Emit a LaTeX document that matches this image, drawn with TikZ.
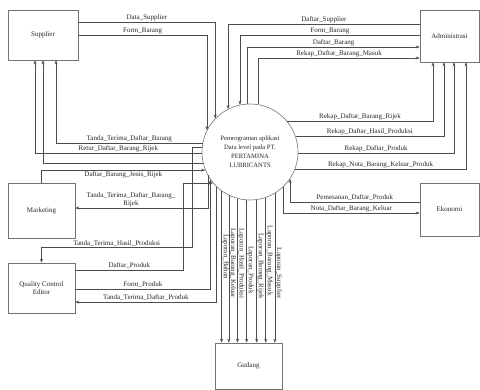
\documentclass[tikz,border=0pt]{standalone}
\usepackage{fontspec}
\setmainfont{Liberation Serif}
\usetikzlibrary{arrows.meta}

\begin{document}
\begin{tikzpicture}[x=1pt, y=-1pt, >={Stealth[length=4pt,width=3pt]}, line width=0.5pt, font=\fontsize{7}{8}\selectfont,
  entity/.style={rectangle, draw=black!55, line width=0.6pt, align=center, inner sep=1pt, text=black!85},
  flow/.style={->, draw=black!70},
  lbl/.style={inner sep=1pt, text=black!85},
  vlbl/.style={lbl, inner sep=0.5pt, font=\fontsize{7}{8}\selectfont, rotate=-90, anchor=south west}]

\useasboundingbox (0,0) rectangle (480,390);

% Nodes
\node[entity, minimum width=70pt, minimum height=50pt] (sup) at (43,35) {Supplier};
\node[entity, minimum width=59pt, minimum height=52pt] (adm) at (449.5,36) {Administrasi};
\node[entity, minimum width=67pt, minimum height=55pt] (mkt) at (41.5,210.5) {Marketing};
\node[entity, minimum width=59pt, minimum height=53pt] (eko) at (449.5,209.5) {Ekonomi};
\node[entity, minimum width=67pt, minimum height=50pt] (qc) at (41.5,288) {Quality Control\\Editor};
\node[entity, minimum width=67pt, minimum height=46pt] (gud) at (248.5,366) {Gudang};
\node[circle, draw=black!55, line width=0.6pt, minimum size=96pt, inner sep=0pt, align=center, text=black!85, font=\fontsize{6.6}{9}\selectfont] (proc) at (250,152) {Pemrograman aplikasi\\Data level pada PT.\\PERTAMINA\\LUBRICANTS};

% Edges: Supplier
\draw[flow] ([yshift=13pt]sup.east) -| (proc.136.8) node[lbl, above, pos=0.25] {Data\_Supplier};
\draw[flow] (sup.east) -| (proc.153.6) node[lbl, above, pos=0.25] {Form\_Barang};
\draw[flow] (proc.169.2) -| ([xshift=13pt]sup.south) node[lbl, above, pos=0.25] {Tanda\_Terima\_Daftar\_Barang};
\draw[flow] (proc.182.4) -| ([xshift=-8pt]sup.south) node[lbl, above, pos=0.25] {Retur\_Daftar\_Barang\_Rijek};
\draw[flow] (proc.193.2) -| (sup.south);

% Edges: Marketing
\draw[flow] (mkt.north) |- (proc.202) node[lbl, below, pos=0.75] {Daftar\_Barang\_Jenis\_Rijek};
\draw[flow] (proc.209) |- ([yshift=2.5pt]mkt.east) node[lbl, above, pos=0.79, align=center, font=\fontsize{7}{7.5}\selectfont] {Tanda\_Terima\_Daftar\_Barang\_\\Rijek};

% Edges: Quality Control
\draw[flow] (proc.174) -- ++(-10,0) |- ([yshift=15pt]qc.north) node[lbl, above, pos=0.75] {Tanda\_Terima\_Hasil\_Produksi} -- (qc.north);
\draw[flow] ([yshift=18pt]qc.east) -- ++(108,0) node[lbl, above, midway] {Daftar\_Produk} |- (proc.220.2);
\draw[flow] ([yshift=-1pt]qc.east) -| (proc.215.7) node[lbl, above, pos=0.25] {Form\_Produk};
\draw[flow] (proc.226.6) |- ([yshift=-14pt]qc.east) node[lbl, above, pos=0.75] {Tanda\_Terima\_Daftar\_Produk};

% Edges: Administrasi
\draw[flow] ([yshift=12pt]adm.west) -| (proc.117.3) node[lbl, above, pos=0.25] {Daftar\_Supplier};
\draw[flow] ([yshift=1pt]adm.west) -| (proc.102) node[lbl, above, pos=0.25] {Form\_Barang};
\draw[flow] (proc.93.6) |- ([yshift=-11pt]adm.west) node[lbl, above, pos=0.75] {Daftar\_Barang};
\draw[flow] (proc.80.4) |- ([yshift=-22pt]adm.west) node[lbl, above, pos=0.75] {Rekap\_Daftar\_Barang\_Masuk};
\draw[flow] (proc.40.2) -| ([xshift=-16.5pt]adm.south) node[lbl, above, pos=0.25] {Rekap\_Daftar\_Barang\_Rijek};
\draw[flow] (proc.19.5) -| ([xshift=-5.5pt]adm.south) node[lbl, above, pos=0.25] {Rekap\_Daftar\_Hasil\_Produksi};
\draw[flow] (proc.358.8) -| ([xshift=4.5pt]adm.south) node[lbl, above, pos=0.25] {Rekap\_Daftar\_Produk};
\draw[flow] (proc.339.3) -| ([xshift=16.5pt]adm.south) node[lbl, above, pos=0.25] {Rekap\_Nota\_Barang\_Keluar\_Produk};

% Edges: Ekonomi
\draw[flow] ([yshift=7.5pt]eko.west) -| (proc.326.4) node[lbl, above, pos=0.25] {Pemesanan\_Daftar\_Produk};
\draw[flow] (proc.313.4) |- ([yshift=-3.5pt]eko.west) node[lbl, above, pos=0.75] {Nota\_Daftar\_Barang\_Keluar};

% Edges: Gudang
\draw[flow] (proc.234.3) -- (proc.234.3 |- gud.north) node[vlbl, pos=0.28] {Laporan\_Bahan};
\draw[flow] (proc.244.1) -- (proc.244.1 |- gud.north) node[vlbl, pos=0.22] {Laporan\_Barang\_Keluar};
\draw[flow] (proc.255.5) -- (proc.255.5 |- gud.north) node[vlbl, pos=0.20] {Laporan\_Hasil\_Produksi};
\draw[flow] (proc.266.4) -- (proc.266.4 |- gud.north) node[vlbl, pos=0.32] {Laporan\_Produk};
\draw[flow] (proc.278.4) -- (proc.278.4 |- gud.north) node[vlbl, pos=0.23] {Laporan\_Barang\_Rijek};
\draw[flow] (proc.289.5) -- (proc.289.5 |- gud.north) node[vlbl, pos=0.19] {Laporan\_Barang\_Masuk};
\draw[flow] (proc.301.4) -- (proc.301.4 |- gud.north) node[vlbl, pos=0.36] {Laporan\_Supplier};

\end{tikzpicture}
\end{document}
